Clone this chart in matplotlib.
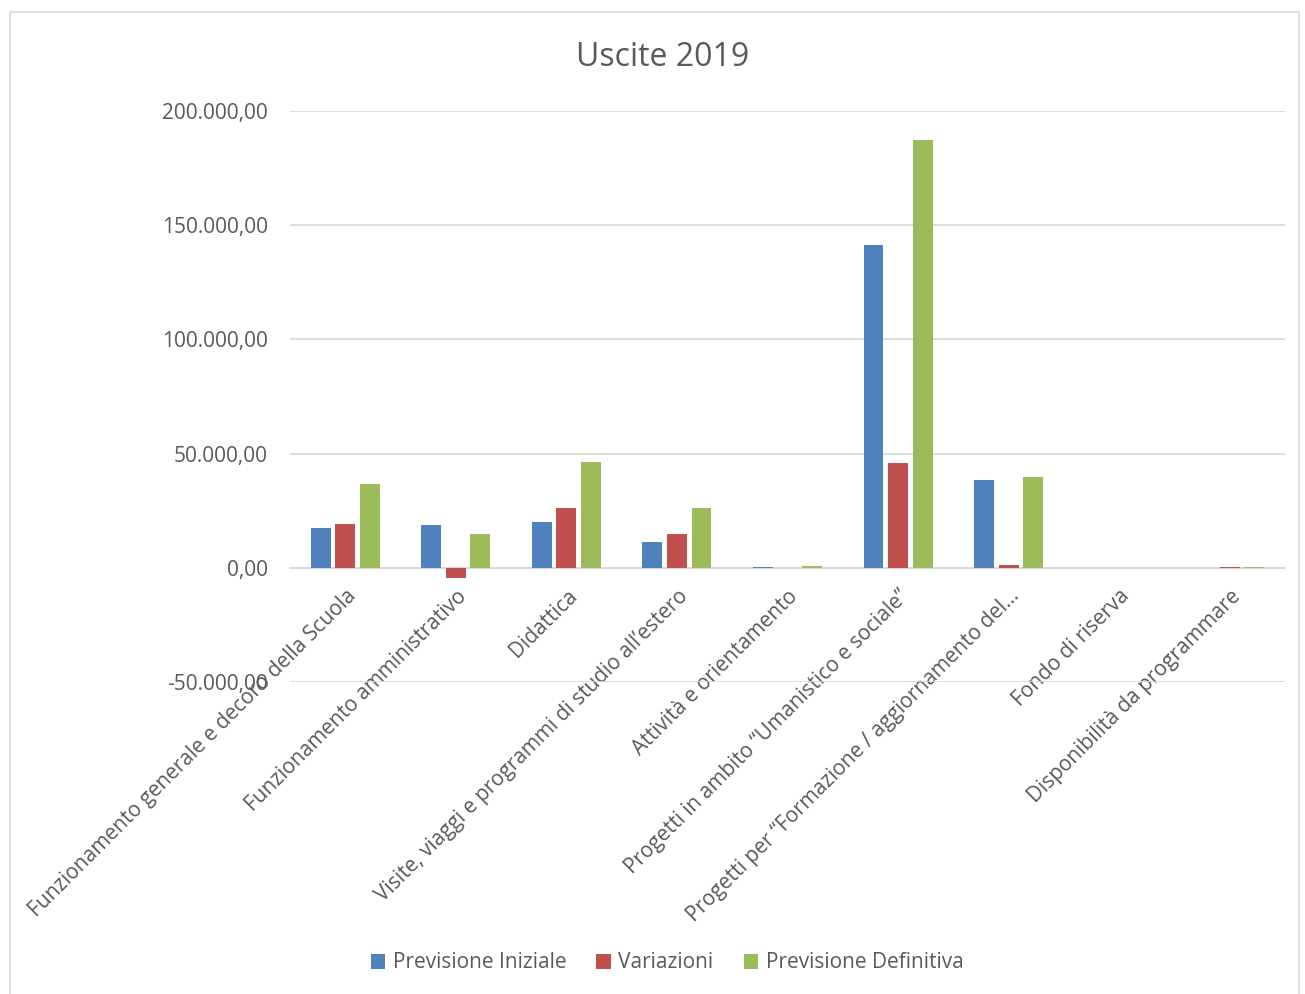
import matplotlib.pyplot as plt
import numpy as np
from matplotlib.ticker import FuncFormatter

plt.rcParams['font.family'] = ['Open Sans', 'DejaVu Sans']

categories = [
    "Funzionamento generale e decoro della Scuola",
    "Funzionamento amministrativo",
    "Didattica",
    "Visite, viaggi e programmi di studio all\u2019estero",
    "Attivit\u00e0 e orientamento",
    "Progetti in ambito \u201cUmanistico e sociale\u201d",
    "Progetti per \u201cFormazione / aggiornamento del\u2026",
    "Fondo di riserva",
    "Disponibilit\u00e0 da programmare",
]
previsione_iniziale = [17400, 18900, 20100, 11400, 500, 141400, 38400, 0, 0]
variazioni = [19200, -4500, 26100, 14700, 0, 45800, 1200, 0, 300]
previsione_definitiva = [36700, 14700, 46300, 26200, 900, 187300, 39700, 0, 300]

series = [
    ("Previsione Iniziale", previsione_iniziale, "#4F81BD"),
    ("Variazioni", variazioni, "#C0504D"),
    ("Previsione Definitiva", previsione_definitiva, "#9BBB59"),
]

fig = plt.figure(figsize=(13.05, 9.94), dpi=100)
ax = fig.add_axes([290 / 1305, 1 - 682 / 994, 995 / 1305, 571 / 994])

x = np.arange(len(categories))
w = 0.18
step = 0.222
for i, (name, vals, col) in enumerate(series):
    ax.bar(x + (i - 1) * step, vals, width=w, color=col, label=name,
           linewidth=0, zorder=3)

ax.set_xlim(-0.5, len(categories) - 0.5)
ax.set_ylim(-50000, 200000)
ax.set_yticks(np.arange(-50000, 200001, 50000))


def fmt(v, pos):
    s = "{:,.2f}".format(v)
    return s.replace(",", "X").replace(".", ",").replace("X", ".")


ax.yaxis.set_major_formatter(FuncFormatter(fmt))
ax.grid(axis="y", color="#d9d9d9", linewidth=1.3, zorder=0)
for s in ["top", "right", "left"]:
    ax.spines[s].set_visible(False)
ax.spines["bottom"].set_position(("data", 0))
ax.spines["bottom"].set_color("#d9d9d9")
ax.spines["bottom"].set_linewidth(1.3)
ax.tick_params(axis="both", length=0, colors="#595959", labelsize=15)
ax.tick_params(axis="y", pad=16)
ax.tick_params(axis="x", pad=13)

ax.set_xticks(x)
ax.set_xticklabels(categories, rotation=45, ha="right", va="top",
                   rotation_mode="anchor")

fig.text(663 / 1305, 1 - 57 / 994, "Uscite 2019", ha="center", va="center",
         fontsize=23, color="#595959")

handles, labels = ax.get_legend_handles_labels()
fig.legend(handles, labels, loc="center", bbox_to_anchor=(667 / 1305, 1 - 963 / 994),
           ncol=3, frameon=False, fontsize=15, labelcolor="#595959",
           handlelength=0.7, handleheight=0.7, handletextpad=0.35, columnspacing=1.45)

# outer chart border
fig.add_artist(plt.Line2D([10 / 1305, 10 / 1305, 1299 / 1305, 1299 / 1305],
                          [0, 1 - 12 / 994, 1 - 12 / 994, 0],
                          transform=fig.transFigure, color="#d9d9d9", linewidth=1.2))

fig.savefig("out.png", dpi=100)
